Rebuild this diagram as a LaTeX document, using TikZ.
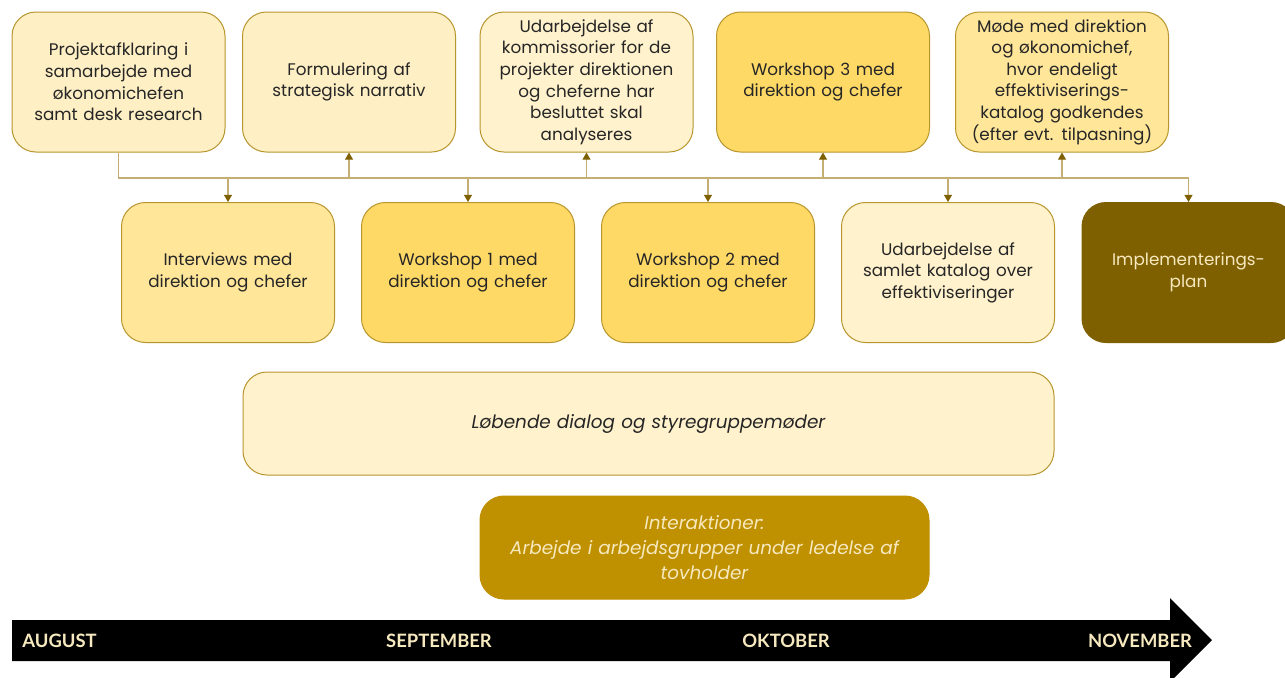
\documentclass[tikz,border=0pt]{standalone}
\usepackage{fontspec}
\setmainfont{Poppins}
\newfontfamily\monthfont{Lato}
\usetikzlibrary{arrows.meta}
\definecolor{clight}{HTML}{FFF2CC}
\definecolor{clightb}{HTML}{FEEFC4}
\definecolor{cmed}{HTML}{FFE699}
\definecolor{cstrong}{HTML}{FFD966}
\definecolor{cgold}{HTML}{BF9000}
\definecolor{cbrown}{HTML}{7F6000}
\definecolor{cborder}{HTML}{B8962E}
\definecolor{cline}{HTML}{C4AE74}
\definecolor{ctext}{HTML}{262626}
\definecolor{ccream}{HTML}{F7E9BF}
\tikzset{
  box/.style={draw=cborder, line width=0.5pt, rounded corners=12pt, minimum width=106.5pt, minimum height=70pt,
    text width=100pt, align=center, inner sep=2pt, text=ctext,
    font=\fontsize{8.4}{10.8}\selectfont},
  conn/.style={draw=cline, line width=0.6pt},
  tip/.style={-{Triangle[length=3.6pt,width=4pt,color=cbrown]}},
  month/.style={text=ccream, font=\monthfont\bfseries\fontsize{9.2}{11}\selectfont, inner sep=0pt}
}
\begin{document}
\begin{tikzpicture}[x=0.5pt,y=-0.5pt]
\clip (0,0) rectangle (1285,677);
\fill[white] (0,0) rectangle (1285,677);
% top row
\node[box, fill=clightb] (a) at (118.5,82) {Projektafklaring i\\samarbejde med\\økonomichefen\\samt desk research};
\node[box, fill=clightb] (b) at (349,82) {Formulering af\\strategisk narrativ};
\node[box, fill=clight] (c) at (586.5,82) {Udarbejdelse af\\kommissorier for de\\projekter direktionen\\og cheferne har\\besluttet skal\\analyseres};
\node[box, fill=cstrong] (d) at (823,82) {Workshop 3 med\\direktion og chefer};
\node[box, fill=cmed] (e) at (1062,82) {Møde med direktion\\og økonomichef,\\hvor endeligt\\effektiviserings-\\katalog godkendes\\(efter evt. tilpasning)};
% bottom row
\node[box, fill=cmed] (f) at (228,272.5) {Interviews med\\direktion og chefer};
\node[box, fill=cstrong] (g) at (468,272.5) {Workshop 1 med\\direktion og chefer};
\node[box, fill=cstrong] (h) at (708,272.5) {Workshop 2 med\\direktion og chefer};
\node[box, fill=clight] (i) at (948,272.5) {Udarbejdelse af\\samlet katalog over\\effektiviseringer};
\node[box, fill=cbrown, draw=cbrown, text=ccream] (j) at (1188.5,272.5) {Implementerings-\\plan};
% connectors
\coordinate (h0) at (118.5,178);
\coordinate (h1) at (1188.5,178);
\draw[conn] (a.south) -- (h0) -- (h1);
\foreach \n in {f,g,h,i,j} \draw[conn,tip] (\n.north |- h0) -- (\n.north);
\foreach \n in {b,c,d,e} \draw[conn,tip] (\n.south |- h0) -- (\n.south);
% dialog box
\node[box, fill=clight, minimum width=405.5pt, minimum height=51.5pt, text width=390pt,
  font=\itshape\fontsize{9.2}{11}\selectfont] (dlg) at (648.5,423.5) {Løbende dialog og styregruppemøder};
\node[box, fill=cgold, draw=cgold, minimum width=224.5pt, minimum height=51.5pt, text width=220pt, text=ccream,
  font=\itshape\fontsize{9.2}{12.3}\selectfont] (inter) at (704.5,547.5) {Interaktioner:\\Arbejde i arbejdsgrupper under ledelse af\\tovholder};
% timeline
\fill[black] (12,620) -- (1170,620) -- (1170,598) -- (1212,640) -- (1170,682) -- (1170,661) -- (12,661) -- cycle;
\node[month, anchor=west] (aug) at (22,641) {AUGUST};
\node[month] (sep) at (439,641) {SEPTEMBER};
\node[month] (okt) at (786,641) {OKTOBER};
\node[month] (nov) at (1140,641) {NOVEMBER};
\end{tikzpicture}
\end{document}
